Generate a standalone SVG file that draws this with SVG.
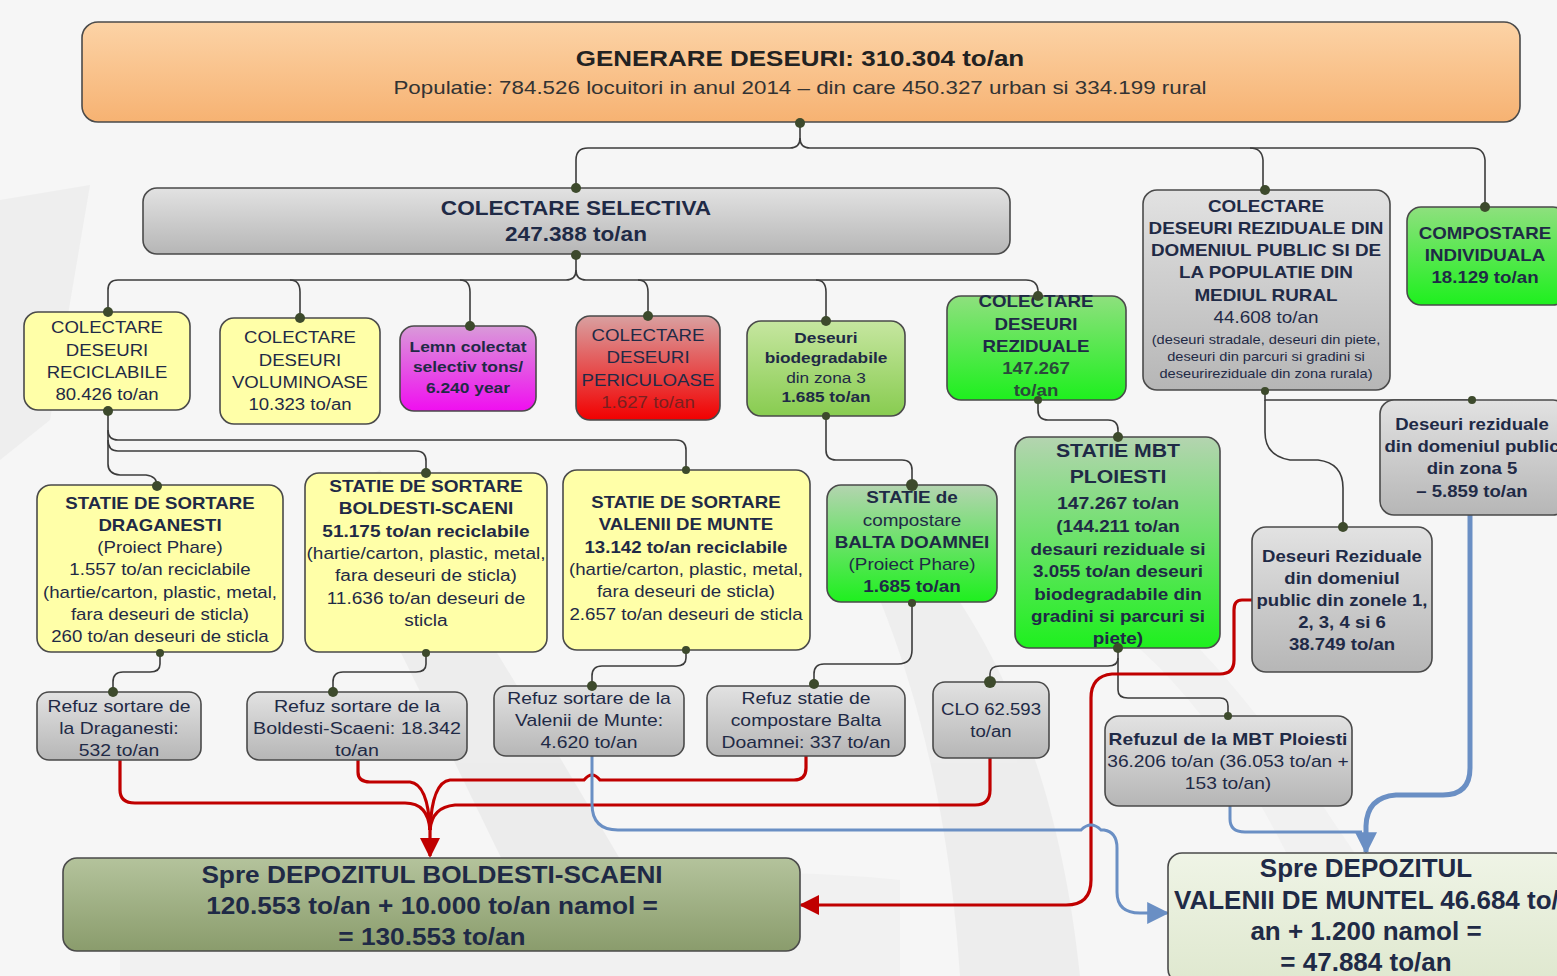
<svg xmlns="http://www.w3.org/2000/svg" width="1557" height="976" viewBox="0 0 1557 976">
<defs>
<linearGradient id="gOrange" x1="0" y1="0" x2="0" y2="1"><stop offset="0" stop-color="#fcd3a6"/><stop offset="1" stop-color="#f6b272"/></linearGradient>
<linearGradient id="gGray" x1="0" y1="0" x2="0" y2="1"><stop offset="0" stop-color="#e2e2e2"/><stop offset="1" stop-color="#b6b6b6"/></linearGradient>
<linearGradient id="gMag" x1="0" y1="0" x2="0" y2="1"><stop offset="0" stop-color="#d99ad9"/><stop offset="1" stop-color="#f00ef0"/></linearGradient>
<linearGradient id="gRed" x1="0" y1="0" x2="0" y2="1"><stop offset="0" stop-color="#d9a0a0"/><stop offset="1" stop-color="#f20000"/></linearGradient>
<linearGradient id="gBio" x1="0" y1="0" x2="0" y2="1"><stop offset="0" stop-color="#c6e6a0"/><stop offset="1" stop-color="#88cc50"/></linearGradient>
<linearGradient id="gGreen" x1="0" y1="0" x2="0" y2="1"><stop offset="0" stop-color="#8ee07e"/><stop offset="1" stop-color="#1ef01e"/></linearGradient>
<linearGradient id="gMBT" x1="0" y1="0" x2="0" y2="1"><stop offset="0" stop-color="#b4d4b0"/><stop offset="1" stop-color="#1ef01e"/></linearGradient>
<linearGradient id="gOlive" x1="0" y1="0" x2="0" y2="1"><stop offset="0" stop-color="#b4c39c"/><stop offset="1" stop-color="#8a9c6c"/></linearGradient>
<linearGradient id="gPale" x1="0" y1="0" x2="0" y2="1"><stop offset="0" stop-color="#eff4e6"/><stop offset="1" stop-color="#dfe8cf"/></linearGradient>
<marker id="arrRed" viewBox="0 0 10 10" refX="9" refY="5" markerUnits="userSpaceOnUse" markerWidth="24" markerHeight="20" orient="auto"><path d="M0,0 L10,5 L0,10 z" fill="#c00000"/></marker>
<marker id="arrBlue" viewBox="0 0 10 10" refX="9" refY="5" markerUnits="userSpaceOnUse" markerWidth="24" markerHeight="22" orient="auto"><path d="M0,0 L10,5 L0,10 z" fill="#6a8fc4"/></marker>
<style>
.n{stroke:#4a4a4a;stroke-width:1.6}
.t{font-family:"Liberation Sans",Arial,sans-serif;fill:#1f2a46;text-anchor:middle;font-size:16px}
.b{font-weight:bold}
.s{font-size:12px}
.c{fill:none;stroke:#3c3c3c;stroke-width:1.6}
.r{fill:none;stroke:#c00000;stroke-width:3.2}
.bl{fill:none;stroke:#6a8fc4;stroke-width:3}
.d{fill:#3d4a2c}
</style>
</defs>
<rect width="1557" height="976" fill="#f6f6f6"/>
<g id="background" opacity="0.45">
<path d="M0,200 L90,185 L50,420 L0,460 Z" fill="#e4e4e4"/>
<path d="M380,470 C470,600 560,760 690,976 L560,976 C470,800 400,640 320,500 Z" fill="#e2e2e2"/>
<path d="M930,560 C1000,650 1060,780 1080,976 L960,976 C950,820 920,700 880,600 Z" fill="#e4e4e4"/>
<path d="M120,930 C400,880 700,860 900,880 L900,976 L120,976 Z" fill="#ececec"/>
<path d="M1150,600 C1260,700 1330,820 1360,860 L1290,860 C1250,780 1200,700 1130,640 Z" fill="#ebebeb"/>
</g>

<g id="connectors">
<path class="c" d="M800,123 V138 Q800,148 790,148 H588 Q576,148 576,160 V188"/>
<path class="c" d="M800,138 Q800,148 810,148 H1250 Q1262,148 1263,160 V190"/>
<path class="c" d="M1250,148 H1472 Q1484,148 1485,160 V207"/>
<path class="c" d="M576,255 V270 Q576,280 566,280 H118 Q108,280 108,290 V312"/>
<path class="c" d="M576,270 Q576,280 586,280 H1026 Q1037,280 1038,290 V296"/>
<path class="c" d="M290,280 Q300,280 300,292 V318"/>
<path class="c" d="M460,280 Q470,280 470,292 V326"/>
<path class="c" d="M638,280 Q648,280 648,292 V316"/>
<path class="c" d="M816,280 Q826,280 826,292 V321"/>
<path class="c" d="M108,411 V464 Q108,474 120,475 H146 Q157,476 157,486"/>
<path class="c" d="M108,440 Q108,451 118,451 H416 Q426,451 426,461 V473"/>
<path class="c" d="M108,430 Q108,440 118,440 H676 Q686,440 686,450 V470"/>
<path class="c" d="M826,416 V450 Q826,460 836,460 H902 Q912,460 912,470 V485"/>
<path class="c" d="M1038,400 V410 Q1038,420 1048,420 H1108 Q1118,420 1118,430 V437"/>
<path class="c" d="M1265,391 V400 H1472"/>
<path class="c" d="M1265,400 V432 Q1265,456 1290,460 H1318 Q1343,463 1343,488 V527"/>
<path class="c" d="M160,652 V664 Q160,672 150,672 H123 Q113,672 113,682 V692"/>
<path class="c" d="M426,652 V664 Q426,672 416,672 H343 Q333,672 333,682 V692"/>
<path class="c" d="M686,650 V658 Q686,666 676,666 H602 Q592,666 592,676 V686"/>
<path class="c" d="M912,603 V650 Q912,664 898,664 H824 Q814,664 814,674 V684"/>
<path class="c" d="M1118,648 V658 Q1118,666 1108,666 H1000 Q990,666 990,674 V682"/>
<path class="c" d="M1118,658 V690 Q1118,698 1128,698 H1220 Q1228,698 1228,706 V716"/>
<path class="r" d="M120,760 V790 Q120,803 135,803 H405 Q428,803 430,830"/>
<path class="r" d="M358,760 V772 Q358,782 370,782 H410 Q428,784 430,830"/>
<path class="r" d="M806,756 V768 Q806,780 794,780 H600 Q592,770 584,780 H450 Q432,782 430,830"/>
<path class="r" d="M990,758 V790 Q990,805 975,805 H455 Q432,807 430,830"/>
<path class="r" d="M430,828 V856" marker-end="url(#arrRed)"/>
<path class="r" d="M1252,600 H1242 Q1234,600 1234,610 V660 Q1234,674 1220,674 H1112 Q1091,676 1091,698 V880 Q1091,905 1066,905 H801" marker-end="url(#arrRed)"/>
<path class="bl" d="M592,756 V804 Q592,830 618,830 H1081 Q1091,820 1101,830 H1104 Q1117,832 1117,848 V892 Q1117,913 1140,913 H1167" marker-end="url(#arrBlue)"/>
<path class="bl" d="M1230,806 V819 Q1230,832 1245,832 H1362"/>
<path class="bl" style="stroke-width:5" d="M1470,515 V768 Q1470,795 1443,795 H1396 Q1367,797 1366,826 V852" marker-end="url(#arrBlue)"/>
</g>

<g id="n-generare">
<rect class="n" x="82" y="22" width="1438" height="100" rx="16" fill="url(#gOrange)"/>
<text class="t b" x="800" y="66" transform="matrix(1.18,0,0,1,-144,0)" style="font-size:22px;fill:#222">GENERARE DESEURI: 310.304 to/an</text>
<text class="t" x="800" y="94" transform="matrix(1.21,0,0,1,-168,0)" style="font-size:18.5px;fill:#333">Populatie: 784.526 locuitori in anul  2014 – din care 450.327 urban si 334.199 rural</text>
<circle class="d" cx="800" cy="123" r="5"/>
</g>

<g id="n-selectiva">
<rect class="n" x="143" y="188" width="867" height="66" rx="14" fill="url(#gGray)"/>
<g transform="matrix(1.13,0,0,1,-74.88,0)">
<text class="t b" x="576" y="215" style="font-size:20px">COLECTARE SELECTIVA</text>
<text class="t b" x="576" y="241" style="font-size:20px">247.388 to/an</text>
</g>
<circle class="d" cx="576" cy="188" r="5"/><circle class="d" cx="576" cy="255" r="5"/>
</g>

<g id="n-rezidual-public">
<rect class="n" x="1143" y="190" width="247" height="200" rx="14" fill="url(#gGray)"/>
<g transform="matrix(1.18,0,0,1,-227.88,0)">
<text class="t b" x="1266" y="212">COLECTARE</text>
<text class="t b" x="1266" y="234">DESEURI REZIDUALE DIN</text>
<text class="t b" x="1266" y="256">DOMENIUL PUBLIC SI DE</text>
<text class="t b" x="1266" y="278">LA POPULATIE DIN</text>
<text class="t b" x="1266" y="301">MEDIUL RURAL</text>
<text class="t" x="1266" y="323">44.608 to/an</text>
</g>
<g transform="matrix(1.22,0,0,1,-278.52,0)">
<text class="t s" x="1266" y="344">(deseuri stradale, deseuri din piete,</text>
<text class="t s" x="1266" y="361">deseuri din parcuri si gradini si</text>
<text class="t s" x="1266" y="378">deseurireziduale din zona rurala)</text>
</g>
<circle class="d" cx="1265" cy="190" r="5"/><circle class="d" cx="1265" cy="391" r="4"/>
</g>

<g id="n-compostare">
<rect class="n" x="1407" y="207" width="160" height="98" rx="14" fill="url(#gGreen)"/>
<g transform="matrix(1.17,0,0,1,-252.45,0)">
<text class="t b" x="1485" y="239">COMPOSTARE</text>
<text class="t b" x="1485" y="261">INDIVIDUALA</text>
<text class="t b" x="1485" y="283">18.129 to/an</text>
</g>
<circle class="d" cx="1485" cy="207" r="5"/>
</g>

<g id="n-reciclabile">
<rect class="n" x="24" y="312" width="166" height="98" rx="14" fill="#ffffa8"/>
<g transform="matrix(1.16,0,0,1,-17.12,0)">
<text class="t" x="107" y="333">COLECTARE</text>
<text class="t" x="107" y="356">DESEURI</text>
<text class="t" x="107" y="378">RECICLABILE</text>
<text class="t" x="107" y="400">80.426 to/an</text>
</g>
<circle class="d" cx="108" cy="312" r="5"/><circle class="d" cx="108" cy="411" r="5"/>
</g>

<g id="n-voluminoase">
<rect class="n" x="220" y="318" width="160" height="106" rx="14" fill="#ffffa8"/>
<g transform="matrix(1.16,0,0,1,-48,0)">
<text class="t" x="300" y="343">COLECTARE</text>
<text class="t" x="300" y="366">DESEURI</text>
<text class="t" x="300" y="388">VOLUMINOASE</text>
<text class="t" x="300" y="410">10.323 to/an</text>
</g>
<circle class="d" cx="300" cy="318" r="5"/>
</g>

<g id="n-lemn">
<rect class="n" x="400" y="326" width="136" height="85" rx="14" fill="url(#gMag)"/>
<g transform="matrix(1.16,0,0,1,-74.88,0)">
<text class="t b" x="468" y="352" style="font-size:15px">Lemn colectat</text>
<text class="t b" x="468" y="372" style="font-size:15px">selectiv  tons/</text>
<text class="t b" x="468" y="393" style="font-size:15px">6.240 year</text>
</g>
<circle class="d" cx="470" cy="326" r="5"/>
</g>

<g id="n-periculoase">
<rect class="n" x="576" y="316" width="144" height="104" rx="14" fill="url(#gRed)"/>
<g transform="matrix(1.17,0,0,1,-110.16,0)">
<text class="t" x="648" y="341">COLECTARE</text>
<text class="t" x="648" y="363">DESEURI</text>
<text class="t" x="648" y="386">PERICULOASE</text>
<text class="t" x="648" y="408" style="fill:#7a2020">1.627 to/an</text>
</g>
<circle class="d" cx="648" cy="316" r="5"/>
</g>

<g id="n-biodeg">
<rect class="n" x="747" y="321" width="158" height="95" rx="14" fill="url(#gBio)"/>
<g transform="matrix(1.15,0,0,1,-123.9,0)">
<text class="t b" x="826" y="343" style="font-size:15px">Deseuri</text>
<text class="t b" x="826" y="363" style="font-size:15px">biodegradabile</text>
<text class="t" x="826" y="383" style="font-size:15px">din zona 3</text>
<text class="t b" x="826" y="402" style="font-size:15px">1.685  to/an</text>
</g>
<circle class="d" cx="826" cy="321" r="5"/><circle class="d" cx="826" cy="416" r="4"/>
</g>

<g id="n-reziduale">
<rect class="n" x="947" y="296" width="179" height="104" rx="14" fill="url(#gGreen)"/>
<g transform="matrix(1.17,0,0,1,-176.12,0)">
<text class="t b" x="1036" y="307">COLECTARE</text>
<text class="t b" x="1036" y="330">DESEURI</text>
<text class="t b" x="1036" y="352">REZIDUALE</text>
<text class="t b" x="1036" y="374" style="fill:#2a4a3a">147.267</text>
<text class="t b" x="1036" y="396" style="fill:#2a4a3a">to/an</text>
</g>
<circle class="d" cx="1038" cy="296" r="5"/><circle class="d" cx="1038" cy="400" r="4"/>
</g>

<g id="n-zona5">
<rect class="n" x="1380" y="400" width="187" height="115" rx="14" fill="url(#gGray)"/>
<g transform="matrix(1.16,0,0,1,-235.52,0)">
<text class="t b" x="1472" y="430">Deseuri reziduale</text>
<text class="t b" x="1472" y="452">din domeniul public</text>
<text class="t b" x="1472" y="474">din zona 5</text>
<text class="t b" x="1472" y="497">– 5.859 to/an</text>
</g>
<circle class="d" cx="1472" cy="400" r="4"/>
</g>

<g id="n-draganesti">
<rect class="n" x="37" y="485" width="246" height="167" rx="14" fill="#ffffa8"/>
<g transform="matrix(1.165,0,0,1,-26.4,0)">
<text class="t b" x="160" y="509">STATIE DE SORTARE</text>
<text class="t b" x="160" y="531">DRAGANESTI</text>
<text class="t" x="160" y="553">(Proiect Phare)</text>
<text class="t" x="160" y="575">1.557 to/an reciclabile</text>
<text class="t" x="160" y="598">(hartie/carton, plastic, metal,</text>
<text class="t" x="160" y="620">fara deseuri de sticla)</text>
<text class="t" x="160" y="642">260 to/an deseuri de sticla</text>
</g>
<circle class="d" cx="157" cy="486" r="5"/><circle class="d" cx="160" cy="653" r="4"/>
</g>

<g id="n-boldesti">
<rect class="n" x="305" y="473" width="242" height="179" rx="14" fill="#ffffa8"/>
<g transform="matrix(1.19,0,0,1,-80.94,0)">
<text class="t b" x="426" y="492">STATIE DE SORTARE</text>
<text class="t b" x="426" y="514">BOLDESTI-SCAENI</text>
<text class="t b" x="426" y="537">51.175 to/an reciclabile</text>
<text class="t" x="426" y="559">(hartie/carton, plastic, metal,</text>
<text class="t" x="426" y="581">fara deseuri de sticla)</text>
<text class="t" x="426" y="604">11.636 to/an deseuri de</text>
<text class="t" x="426" y="626">sticla</text>
</g>
<circle class="d" cx="426" cy="473" r="5"/><circle class="d" cx="426" cy="653" r="4"/>
</g>

<g id="n-valenii">
<rect class="n" x="563" y="470" width="247" height="180" rx="14" fill="#ffffa8"/>
<g transform="matrix(1.165,0,0,1,-113.19,0)">
<text class="t b" x="686" y="508">STATIE DE SORTARE</text>
<text class="t b" x="686" y="530">VALENII DE MUNTE</text>
<text class="t b" x="686" y="553">13.142 to/an reciclabile</text>
<text class="t" x="686" y="575">(hartie/carton, plastic, metal,</text>
<text class="t" x="686" y="597">fara deseuri de sticla)</text>
<text class="t" x="686" y="620">2.657 to/an deseuri de sticla</text>
</g>
<circle class="d" cx="686" cy="470" r="4"/><circle class="d" cx="686" cy="650" r="4"/>
</g>

<g id="n-balta">
<rect class="n" x="827" y="485" width="170" height="117" rx="14" fill="url(#gMBT)"/>
<g transform="matrix(1.18,0,0,1,-164.16,0)">
<text class="t b" x="912" y="503">STATIE de</text>
<text class="t" x="912" y="526">compostare</text>
<text class="t b" x="912" y="548">BALTA DOAMNEI</text>
<text class="t" x="912" y="570">(Proiect Phare)</text>
<text class="t b" x="912" y="592">1.685 to/an</text>
</g>
<circle class="d" cx="912" cy="485" r="6"/><circle class="d" cx="912" cy="603" r="4"/>
</g>

<g id="n-mbt">
<rect class="n" x="1015" y="437" width="205" height="211" rx="14" fill="url(#gMBT)"/>
<g transform="matrix(1.18,0,0,1,-201.24,0)">
<text class="t b" x="1118" y="457" style="font-size:18px">STATIE MBT</text>
<text class="t b" x="1118" y="483" style="font-size:18px">PLOIESTI</text>
<text class="t b" x="1118" y="509" style="font-size:16.5px">147.267 to/an</text>
<text class="t b" x="1118" y="532">(144.211 to/an</text>
<text class="t b" x="1118" y="555">desauri reziduale si</text>
<text class="t b" x="1118" y="577">3.055 to/an deseuri</text>
<text class="t b" x="1118" y="600">biodegradabile din</text>
<text class="t b" x="1118" y="622">gradini si parcuri si</text>
<text class="t b" x="1118" y="644">piete)</text>
</g>
<circle class="d" cx="1118" cy="437" r="5"/><circle class="d" cx="1118" cy="648" r="5"/>
</g>

<g id="n-zone">
<rect class="n" x="1252" y="527" width="180" height="145" rx="14" fill="url(#gGray)"/>
<g transform="matrix(1.16,0,0,1,-214.72,0)">
<text class="t b" x="1342" y="562">Deseuri Reziduale</text>
<text class="t b" x="1342" y="584">din domeniul</text>
<text class="t b" x="1342" y="606">public din zonele 1,</text>
<text class="t b" x="1342" y="628">2, 3, 4 si 6</text>
<text class="t b" x="1342" y="650">38.749 to/an</text>
</g>
<circle class="d" cx="1343" cy="527" r="5"/>
</g>

<g id="n-refuz-draganesti">
<rect class="n" x="37" y="692" width="164" height="68" rx="12" fill="url(#gGray)"/>
<g transform="matrix(1.21,0,0,1,-24.99,0)">
<text class="t" x="119" y="712">Refuz sortare de</text>
<text class="t" x="119" y="734">la Draganesti:</text>
<text class="t" x="119" y="756">532 to/an</text>
</g>
<circle class="d" cx="113" cy="692" r="5"/>
</g>

<g id="n-refuz-boldesti">
<rect class="n" x="247" y="692" width="220" height="68" rx="12" fill="url(#gGray)"/>
<g transform="matrix(1.23,0,0,1,-82.11,0)">
<text class="t" x="357" y="712">Refuz sortare de la</text>
<text class="t" x="357" y="734">Boldesti-Scaeni: 18.342</text>
<text class="t" x="357" y="756">to/an</text>
</g>
<circle class="d" cx="333" cy="692" r="5"/>
</g>

<g id="n-refuz-valenii">
<rect class="n" x="494" y="686" width="190" height="70" rx="12" fill="url(#gGray)"/>
<g transform="matrix(1.21,0,0,1,-123.69,0)">
<text class="t" x="589" y="704">Refuz sortare de la</text>
<text class="t" x="589" y="726">Valenii de Munte:</text>
<text class="t" x="589" y="748">4.620 to/an</text>
</g>
<circle class="d" cx="592" cy="686" r="5"/>
</g>

<g id="n-refuz-balta">
<rect class="n" x="707" y="686" width="198" height="70" rx="12" fill="url(#gGray)"/>
<g transform="matrix(1.21,0,0,1,-169.26,0)">
<text class="t" x="806" y="704">Refuz statie de</text>
<text class="t" x="806" y="726">compostare Balta</text>
<text class="t" x="806" y="748">Doamnei: 337 to/an</text>
</g>
<circle class="d" cx="814" cy="684" r="5"/>
</g>

<g id="n-clo">
<rect class="n" x="933" y="682" width="116" height="76" rx="12" fill="url(#gGray)"/>
<g transform="matrix(1.16,0,0,1,-158.56,0)">
<text class="t" x="991" y="715">CLO 62.593</text>
<text class="t" x="991" y="737">to/an</text>
</g>
<circle class="d" cx="990" cy="682" r="6"/>
</g>

<g id="n-refuz-mbt">
<rect class="n" x="1105" y="716" width="247" height="90" rx="14" fill="url(#gGray)"/>
<g transform="matrix(1.2,0,0,1,-245.6,0)">
<text class="t b" x="1228" y="745">Refuzul de la MBT Ploiesti</text>
<text class="t" x="1228" y="767">36.206 to/an (36.053 to/an +</text>
<text class="t" x="1228" y="789">153 to/an)</text>
</g>
<circle class="d" cx="1228" cy="716" r="4"/>
</g>

<g id="n-depozit-boldesti">
<rect class="n" x="63" y="858" width="737" height="93" rx="14" fill="url(#gOlive)"/>
<g transform="matrix(1.14,0,0,1,-60.48,0)">
<text class="t b" x="432" y="883" style="font-size:23px">Spre DEPOZITUL BOLDESTI-SCAENI</text>
<text class="t b" x="432" y="914" style="font-size:23px">120.553 to/an + 10.000 to/an namol =</text>
<text class="t b" x="432" y="945" style="font-size:23px">= 130.553 to/an</text>
</g>
</g>

<g id="n-depozit-valenii">
<rect class="n" x="1168" y="853" width="400" height="130" rx="14" fill="url(#gPale)"/>
<text class="t b" x="1366" y="877" style="font-size:26px">Spre DEPOZITUL</text>
<text class="t b" x="1174" y="909" style="font-size:26px;text-anchor:start">VALENII DE MUNTEL 46.684 to/</text>
<text class="t b" x="1366" y="940" style="font-size:26px">an + 1.200 namol =</text>
<text class="t b" x="1366" y="971" style="font-size:26px">= 47.884 to/an</text>
</g>
</svg>
